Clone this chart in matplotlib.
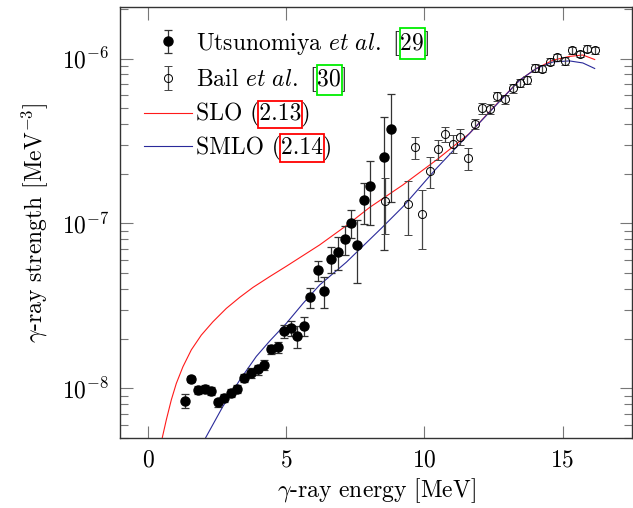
import numpy as np
import matplotlib
matplotlib.use("Agg")
import matplotlib.pyplot as plt
from matplotlib.patches import Rectangle

plt.rcParams['font.family'] = 'serif'
plt.rcParams['font.serif'] = ['cmr10', 'DejaVu Serif']
plt.rcParams['mathtext.fontset'] = 'cm'
plt.rcParams['axes.formatter.use_mathtext'] = True

# Utsunomiya et al. [29] (filled)
uts_E = [1.35, 1.57, 1.81, 2.05, 2.29, 2.52, 2.77, 3.02, 3.24, 3.49, 3.73, 3.97,
         4.21, 4.45, 4.69, 4.92, 5.16, 5.41, 5.64, 5.88, 6.14, 6.38, 6.62, 6.86,
         7.12, 7.33, 7.57, 7.83, 8.04, 8.55, 8.79]
uts_f = [8.4e-9, 1.14e-8, 9.8e-9, 9.9e-9, 9.6e-9, 8.2e-9, 8.7e-9, 9.4e-9, 9.9e-9,
         1.16e-8, 1.24e-8, 1.30e-8, 1.38e-8, 1.72e-8, 1.77e-8, 2.23e-8, 2.33e-8,
         2.08e-8, 2.39e-8, 3.57e-8, 5.21e-8, 3.91e-8, 6.08e-8, 6.73e-8, 8.03e-8,
         1.01e-7, 7.41e-8, 1.38e-7, 1.68e-7, 2.54e-7, 3.73e-7]
uts_rel = [0.094, 0.046, 0.056, 0.056, 0.056, 0.056, 0.056, 0.056, 0.056, 0.059,
           0.07, 0.07, 0.07, 0.063, 0.081, 0.091, 0.105, 0.151, 0.126, 0.14, 0.14,
           0.21, 0.182, 0.224, 0.196, 0.196, 0.41, 0.28, 0.42, 0.73, 0.64]

# Bail et al. [30] (open)
bail_E = [8.57, 9.39, 9.66, 9.93, 10.21, 10.49, 10.76, 11.02, 11.28, 11.57, 11.84,
          12.10, 12.37, 12.64, 12.91, 13.19, 13.45, 13.72, 14.00, 14.27, 14.54,
          14.81, 15.07, 15.35, 15.62, 15.90, 16.18]
bail_f = [1.37e-7, 1.32e-7, 2.91e-7, 1.14e-7, 2.08e-7, 2.82e-7, 3.47e-7, 3.05e-7,
          3.35e-7, 2.48e-7, 4.0e-7, 4.98e-7, 4.94e-7, 5.91e-7, 5.67e-7, 6.58e-7,
          7.11e-7, 7.38e-7, 8.77e-7, 8.69e-7, 9.59e-7, 1.02e-6, 9.67e-7, 1.12e-6,
          1.07e-6, 1.15e-6, 1.12e-6]
bail_rel = [0.37, 0.36, 0.154, 0.39, 0.21, 0.14, 0.105, 0.126, 0.112, 0.154, 0.07,
            0.08, 0.07, 0.066, 0.066, 0.06, 0.056, 0.056, 0.056, 0.05, 0.05, 0.05,
            0.05, 0.045, 0.045, 0.045, 0.045]

# model curves
slo_E = [0.52, 0.665, 0.846, 1.027, 1.266, 1.57, 1.93, 2.35, 2.835, 3.32, 3.80,
         4.40, 5.01, 6.21, 7.18, 8.02, 9.22, 10.43, 11.63, 12.45, 13.44, 14.05,
         14.65, 15.25, 15.73, 16.16]
slo_f = [5.02e-9, 6.43e-9, 8.5e-9, 1.07e-8, 1.35e-8, 1.71e-8, 2.10e-8, 2.53e-8,
         3.05e-8, 3.56e-8, 4.09e-8, 4.75e-8, 5.5e-8, 7.4e-8, 9.7e-8, 1.25e-7,
         1.71e-7, 2.42e-7, 3.51e-7, 4.95e-7, 7.38e-7, 8.7e-7, 9.77e-7, 1.03e-6,
         1.05e-6, 9.86e-7]
smlo_E = [2.09, 2.71, 3.32, 3.92, 4.40, 5.01, 5.61, 6.21, 7.18, 8.44, 9.22, 10.43,
          11.63, 12.48, 13.44, 14.05, 14.65, 15.25, 15.73, 16.16]
smlo_f = [5.02e-9, 7.75e-9, 1.12e-8, 1.56e-8, 1.93e-8, 2.48e-8, 3.27e-8, 4.23e-8,
          5.82e-8, 9.33e-8, 1.26e-7, 2.15e-7, 3.51e-7, 4.98e-7, 7.38e-7, 8.7e-7,
          9.53e-7, 9.67e-7, 9.4e-7, 8.7e-7]

fig = plt.figure(figsize=(6.33, 5.08), dpi=100)
ax = fig.add_axes([0.190, 0.138, 0.808, 0.848])

uts_err = np.array(uts_rel) * np.array(uts_f)
bail_err = np.array(bail_rel) * np.array(bail_f)

h1 = ax.errorbar(uts_E, uts_f, yerr=uts_err, fmt='o', color='black', ms=6.5,
                 ecolor='#333333', elinewidth=0.9, capsize=2.8, capthick=0.9, zorder=3)
h2 = ax.errorbar(bail_E, bail_f, yerr=bail_err, fmt='o', mfc='none', mec='black',
                 mew=0.7, ms=5.8, ecolor='#444444', elinewidth=0.9, capsize=2.8,
                 capthick=0.9, zorder=3)
l1, = ax.plot(slo_E, slo_f, color='#ff1a1a', lw=0.8, zorder=2)
l2, = ax.plot(smlo_E, smlo_f, color='#2a2a9a', lw=0.8, zorder=2)

ax.set_yscale('log')
ax.set_xlim(-1, 17.5)
ax.set_ylim(5e-9, 2.05e-6)
ax.set_xticks([0, 5, 10, 15])
ax.tick_params(which='both', direction='in', top=True, right=True, color='#777777',
               labelsize=17, pad=8)
ax.tick_params(which='major', length=9, width=0.8)
ax.tick_params(which='minor', length=6, width=0.8)
for s in ax.spines.values():
    s.set_color('#333333')
    s.set_linewidth(1.0)

ax.set_xlabel(r'$\gamma$-ray energy [MeV]', fontsize=17, labelpad=4)
ax.set_ylabel(r'$\gamma$-ray strength [MeV$^{-3}$]', fontsize=17, labelpad=8)

labels = [r'Utsunomiya $\mathit{et\ al.}$ [29]', r'Bail $\mathit{et\ al.}$ [30]',
          'SLO (2.13)', 'SMLO (2.14)']
prefixes = [r'Utsunomiya $\mathit{et\ al.}$ [', r'Bail $\mathit{et\ al.}$ [',
            'SLO (', 'SMLO (']
boxed = ['29', '30', '2.13', '2.14']
box_colors = ['#00ee00', '#00ee00', '#ff0000', '#ff0000']

leg = ax.legend([h1, h2, l1, l2], labels, loc='upper left',
                bbox_to_anchor=(0.015, 0.988), frameon=False, fontsize=17,
                handlelength=2.0, handletextpad=0.17, labelspacing=0.34,
                borderpad=0.2)

fig.canvas.draw()
r = fig.canvas.get_renderer()
inv = fig.transFigure.inverted()
for t, pre, num, c in zip(leg.get_texts(), prefixes, boxed, box_colors):
    bb = t.get_window_extent(r)
    tmp = fig.text(0, 0, pre, fontsize=17)
    w0 = tmp.get_window_extent(r).width
    tmp.set_text(pre + num)
    w1 = tmp.get_window_extent(r).width
    tmp.remove()
    x0, y0 = bb.x0 + w0 - 1, bb.y0 - 1
    x1, y1 = bb.x0 + w1 + 1, bb.y1 + 1
    (fx0, fy0), (fx1, fy1) = inv.transform([(x0, y0), (x1, y1)])
    fig.add_artist(Rectangle((fx0, fy0), fx1 - fx0, fy1 - fy0, fill=False,
                             edgecolor=c, lw=1.3, transform=fig.transFigure))

fig.savefig('out.png', dpi=100)
